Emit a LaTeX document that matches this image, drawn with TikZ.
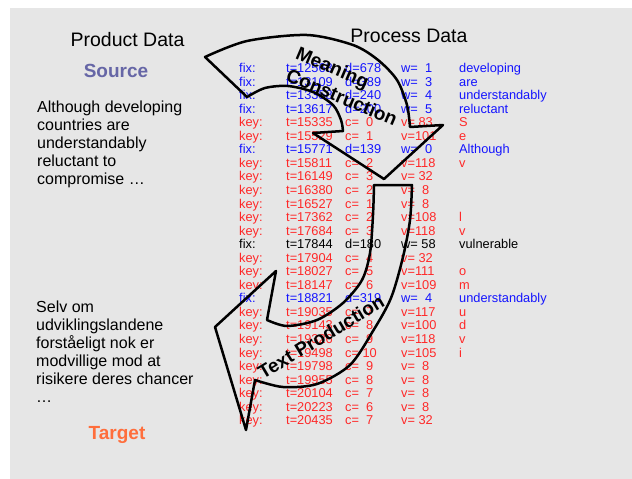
\documentclass[tikz,border=0pt]{standalone}
\usepackage{fontspec}
\setmainfont{Liberation Sans}
\definecolor{bggray}{RGB}{230,230,230}
\definecolor{srccol}{RGB}{102,102,166}
\definecolor{tgtcol}{RGB}{255,110,60}
\definecolor{fixblue}{RGB}{20,20,255}
\definecolor{keyred}{RGB}{255,40,40}
\tikzset{
  heading/.style={anchor=base, inner sep=0pt, font=\fontsize{19.5}{22}\selectfont},
  langlabel/.style={anchor=base, inner sep=0pt, font=\bfseries\fontsize{19}{22}\selectfont},
  para/.style={anchor=base west, inner sep=0pt, font=\fontsize{16}{18}\selectfont},
  cell/.style={anchor=base west, inner sep=0pt, font=\fontsize{12.8}{13}\selectfont},
  bigarrow/.style={draw=black, line width=2.5pt, line join=round},
  arrowlabel/.style={inner sep=0pt, font=\bfseries\fontsize{19}{22}\selectfont}
}

\begin{document}
\begin{tikzpicture}[x=1pt,y=-1pt]
  \useasboundingbox (0,0) rectangle (632,479);
  \fill[bggray] (10,8) rectangle (632,479);
  % headings
  \node[heading] (prod) at (127.5,46.7) {Product Data};
  \node[heading] (proc) at (409,42.7) {Process Data};
  \node[langlabel, text=srccol] (src) at (116,77.3) {Source};
  \node[langlabel, text=tgtcol] (tgt) at (117,439) {Target};
  % the two sentences
  \foreach \line [count=\j from 0] in {Although developing, countries are, understandably, reluctant to, compromise \ldots}
    \node[para] (sl\j) at (37,112.5+18*\j) {\line};
  \foreach \line [count=\j from 0] in {Selv om, udviklingslandene, forståeligt nok er, modvillige mod at, risikere deres chancer, \ldots}
    \node[para] (tl\j) at (36,312.5+18*\j) {\line};
  % log of fixations and keystrokes
  \foreach \kind/\tv/\cv/\vv/\word/\clr [count=\i from 0] in {
      fix/12563/d=678/w=\ \ 1/developing/fixblue,
      fix/13109/d=389/w=\ \ 3/are/fixblue,
      fix/13358/d=240/w=\ \ 4/understandably/fixblue,
      fix/13617/d=200/w=\ \ 5/reluctant/fixblue,
      key/15335/c=\ \ 0/v=\ 83/S/keyred,
      key/15529/c=\ \ 1/v=101/e/keyred,
      fix/15771/d=139/w=\ \ 0/Although/fixblue,
      key/15811/c=\ \ 2/v=118/v/keyred,
      key/16149/c=\ \ 3/v=\ 32/{}/keyred,
      key/16380/c=\ \ 2/v=\ \ 8/{}/keyred,
      key/16527/c=\ \ 1/v=\ \ 8/{}/keyred,
      key/17362/c=\ \ 2/v=108/l/keyred,
      key/17684/c=\ \ 3/v=118/v/keyred,
      fix/17844/d=180/w=\ 58/vulnerable/black,
      key/17904/c=\ \ 4/v=\ 32/{}/keyred,
      key/18027/c=\ \ 5/v=111/o/keyred,
      key/18147/c=\ \ 6/v=109/m/keyred,
      fix/18821/d=319/w=\ \ 4/understandably/fixblue,
      key/19035/c=\ \ 7/v=117/u/keyred,
      key/19143/c=\ \ 8/v=100/d/keyred,
      key/19326/c=\ \ 9/v=118/v/keyred,
      key/19498/c=\ 10/v=105/i/keyred,
      key/19798/c=\ \ 9/v=\ \ 8/{}/keyred,
      key/19955/c=\ \ 8/v=\ \ 8/{}/keyred,
      key/20104/c=\ \ 7/v=\ \ 8/{}/keyred,
      key/20223/c=\ \ 6/v=\ \ 8/{}/keyred,
      key/20435/c=\ \ 7/v=\ 32/{}/keyred}{
    \node[cell, text=\clr] (kind\i) at (239,72.5+13.55*\i) {\kind:};
    \node[cell, text=\clr] (time\i) at (286,72.5+13.55*\i) {t=\tv};
    \node[cell, text=\clr] (dur\i) at (345,72.5+13.55*\i) {\cv};
    \node[cell, text=\clr] (val\i) at (401,72.5+13.55*\i) {\vv};
    \node[cell, text=\clr] (word\i) at (459,72.5+13.55*\i) {\word};
  }
  % curved block arrows
  \draw[bigarrow] (205,57) -- plot[smooth] coordinates {(247,97) (265,88) (288,86) (313,92) (333,105) (341,120) (343,131)}
    -- (313,133) -- (384,179) -- (443,125) -- (410,127)
    -- plot[smooth] coordinates {(410,127) (407,105) (397,80) (378,60) (353,45) (307,35) (247,41) (205,57)} -- cycle;
  \draw[bigarrow] (374,185) -- (412,185)
    -- plot[smooth] coordinates {(412,185) (410,220) (403,257) (391,298) (373,331) (350,365) (317,384) (283,387) (255,380)}
    -- (246,430) -- (215,327) -- (276,271) -- (267,320)
    -- plot[smooth] coordinates {(267,320) (287,326) (317,320) (343,303) (362,280) (370,253) (373,215) (374,185)} -- cycle;
  \node[arrowlabel, rotate=-23] (mean) at (332,69) {Meaning};
  \node[arrowlabel, rotate=-23] (cons) at (342,97) {Construction};
  \node[arrowlabel, rotate=31] (prodn) at (321,337) {Text Production};
\end{tikzpicture}
\end{document}
